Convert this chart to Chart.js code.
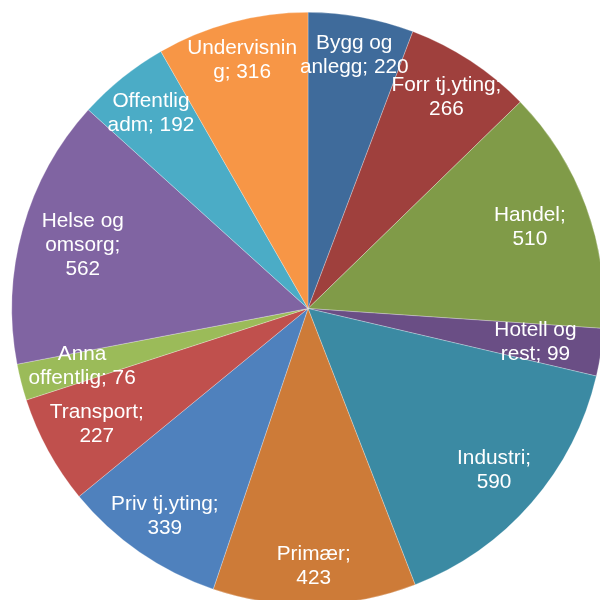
<!DOCTYPE html>
<html>
<head>
    <title>Sysselsatte etter næring</title>
    <script src="https://cdn.jsdelivr.net/npm/chart.js"></script>
    <style>
        html, body {
            margin: 0;
            padding: 0;
            overflow: hidden;
            background: #fff;
        }
    </style>
</head>
<body>
    <canvas id="pieChart" width="616" height="620"></canvas>

    <script>
        // næringer, med etikett-linjer slik de er brutt i figuren
        const categories = ['Bygg og anlegg', 'Forr tj.yting', 'Handel', 'Hotell og rest', 'Industri', 'Primær',
            'Priv tj.yting', 'Transport', 'Anna offentlig', 'Helse og omsorg', 'Offentlig adm', 'Undervisning'];
        const values = [220, 266, 510, 99, 590, 423, 339, 227, 76, 562, 192, 316];
        const labelLines = [
            ['Bygg og', 'anlegg; 220'],
            ['Forr tj.yting;', '266'],
            ['Handel;', '510'],
            ['Hotell og', 'rest; 99'],
            ['Industri;', '590'],
            ['Primær;', '423'],
            ['Priv tj.yting;', '339'],
            ['Transport;', '227'],
            ['Anna', 'offentlig; 76'],
            ['Helse og', 'omsorg;', '562'],
            ['Offentlig', 'adm; 192'],
            ['Undervisnin', 'g; 316']
        ];
        const colors = ['#3F6B9B', '#9F403D', '#809B48', '#6A4E85', '#3B8AA3', '#CD7B38',
            '#4F81BD', '#C0504D', '#9BBB59', '#8064A2', '#4BACC6', '#F79646'];

        // etiketter inni sektorene
        const sliceLabels = {
            id: 'sliceLabels',
            afterDatasetsDraw(chart) {
                const ctx = chart.ctx;
                const arcs = chart.getDatasetMeta(0).data;
                ctx.save();
                ctx.fillStyle = '#fff';
                ctx.font = '20.8px "Liberation Sans", Arial, sans-serif';
                ctx.textAlign = 'center';
                ctx.textBaseline = 'middle';
                arcs.forEach((arc, i) => {
                    const mid = (arc.startAngle + arc.endAngle) / 2;
                    const fromTop = mid + Math.PI / 2;
                    const k = 0.76 + 0.11 * Math.abs(Math.cos(fromTop));
                    const d = arc.outerRadius * k;
                    const x = arc.x + Math.cos(mid) * d;
                    const y = arc.y + Math.sin(mid) * d;
                    const lines = labelLines[i];
                    const lh = 24;
                    lines.forEach((t, j) => {
                        ctx.fillText(t, x, y + (j - (lines.length - 1) / 2) * lh);
                    });
                });
                ctx.restore();
            }
        };

        const ctx = document.getElementById('pieChart').getContext('2d');
        new Chart(ctx, {
            type: 'pie',
            data: {
                labels: categories,
                datasets: [{
                    data: values,
                    backgroundColor: colors,
                    borderColor: 'rgba(255, 255, 255, 0.45)',
                    borderWidth: 0.6
                }]
            },
            options: {
                responsive: false,
                animation: false,
                layout: {
                    padding: { left: 11.5, right: 11.5, top: 12, bottom: 15 }
                },
                plugins: {
                    legend: { display: false },
                    tooltip: { enabled: false }
                }
            },
            plugins: [sliceLabels]
        });
    </script>
</body>
</html>
